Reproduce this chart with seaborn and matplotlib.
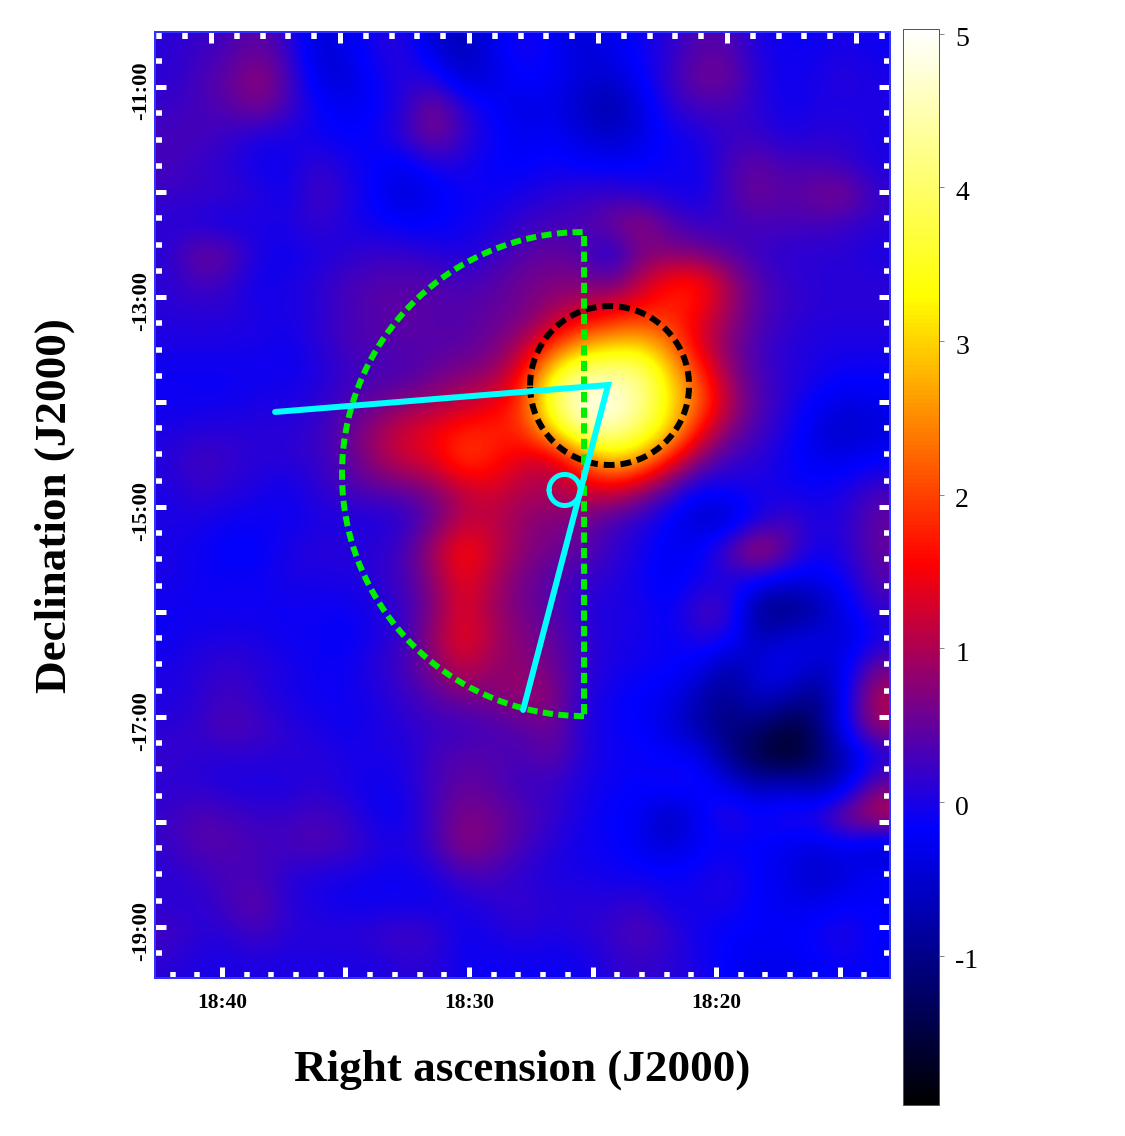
import matplotlib
matplotlib.use("Agg")
import matplotlib.pyplot as plt
from matplotlib.colors import LinearSegmentedColormap
from matplotlib.transforms import ScaledTranslation
import numpy as np
import pandas as pd
import seaborn as sns

# Significance map, rows north to south, columns east to west
sky_rows = [
    [.1,.2,.3,.5,.2,-.5,-.3,0,.1,-.5,-.7,-.3,0,-.2,-.5,-.3,-.1,.1,.4,.4,0,-.1,-.1,0,-.1],
    [.1,.3,.5,.85,.4,-.4,-.5,-.1,.1,0,-.6,-.4,-.1,-.2,-.4,-.5,-.2,.2,.6,.6,.1,-.1,0,.1,0],
    [.2,.3,.4,.7,.3,-.1,-.3,-.2,.1,.7,.1,-.2,-.4,-.3,-.6,-.8,-.4,.1,.3,.3,.1,-.1,0,0,0],
    [.3,.3,.2,0,0,-.1,-.2,-.1,.2,.7,.2,-.1,-.3,-.2,-.4,-.6,-.4,-.1,0,.2,.2,0,.1,.1,0],
    [.3,.2,.1,-.1,-.1,.2,0,-.2,-.3,0,0,-.2,-.2,-.1,-.2,-.2,-.2,-.1,-.1,.3,.5,.3,.3,.2,0],
    [.2,.2,.2,.1,-.1,.3,.1,-.2,-.5,-.3,-.1,-.1,0,.1,.2,.2,.1,0,-.1,.3,.6,.4,.6,.7,.2],
    [.1,0,-.1,0,0,.2,0,-.1,-.2,-.2,-.1,0,.2,.3,.3,.6,.9,.4,.2,.2,.3,.3,.3,.2,.1],
    [.1,.6,.5,0,-.1,0,.1,.2,.2,.1,0,.2,.4,.5,.4,-.1,.6,.7,.6,.4,.2,.1,.1,.1,0],
    [.1,.3,.2,-.1,0,.1,.3,.4,.4,.4,.3,.4,.6,.7,.7,.5,1.1,1.7,1.8,1.0,.4,.2,.1,.1,.1],
    [.1,.1,.1,0,0,.1,.3,.4,.5,.4,.4,.5,.6,.9,1.2,1.5,1.7,1.8,1.5,.9,.4,.2,.1,.1,.1],
    [0,0,0,0,-.1,.1,.3,.4,.4,.4,.4,.6,.9,1.7,2.5,2.8,2.9,2.3,1.3,.7,.3,.1,0,0,0],
    [-.1,-.1,-.1,-.1,-.1,0,.2,.3,.3,.5,.7,.8,1.5,3.2,4.2,4.3,4.2,3.0,1.9,.8,.3,.1,0,-.1,-.1],
    [-.1,-.1,-.1,0,0,.1,.3,.5,.7,.9,1.1,1.4,1.9,3.9,5.0,5.0,4.4,3.2,2.3,1.1,.4,.1,-.2,-.4,-.3],
    [0,.1,.1,.1,.1,.2,.5,.9,1.3,1.5,1.8,1.8,1.8,2.9,4.3,4.5,3.9,3.0,1.6,.7,.3,0,-.4,-.6,-.4],
    [.1,.3,.2,.1,.1,.2,.4,.9,1.2,1.4,2.0,1.7,1.3,1.1,2.0,2.9,2.6,1.6,.7,.2,.1,-.1,-.3,-.3,-.2],
    [0,.2,.1,0,-.1,.1,.3,.4,.5,.7,1.1,1.3,1.0,1.0,1.2,1.3,.9,.3,-.2,-.1,0,-.1,-.1,0,.3],
    [0,0,-.1,-.1,-.1,0,0,0,.1,.5,1.1,1.1,.8,.7,.6,.3,.1,-.2,-.6,-.6,-.1,.3,0,.1,.5],
    [0,-.1,-.2,-.2,0,.1,.1,.1,.3,1.0,1.7,1.2,.8,.6,.5,.2,0,-.3,-.2,.4,1.2,.5,-.1,.1,.5],
    [0,-.1,-.1,-.1,0,0,0,.1,.3,.8,1.5,1.0,.6,.4,.2,.1,-.1,-.3,-.1,0,-.1,-.3,-.3,-.1,.4],
    [-.1,-.1,-.1,-.1,-.1,-.1,-.1,0,.2,.7,1.4,.9,.6,.4,.1,0,0,-.2,.3,.3,-1.0,-1.2,-.8,-.3,.2],
    [-.1,0,0,0,-.1,-.1,-.2,0,.2,.9,1.5,1.0,.7,.5,.2,0,0,-.2,.1,0,-.7,-.4,-.3,-.5,-.1],
    [0,.1,.2,.1,0,-.1,-.1,.1,.3,.7,1.2,.8,.8,.6,.2,0,-.1,-.1,-.3,-.8,-.4,-.2,-.6,-.3,.6],
    [0,.1,.3,.1,0,-.1,-.1,0,.2,.4,.6,.7,.9,.8,.1,-.1,-.2,-.3,-.7,-1.0,-.5,-.7,-1.1,-.2,1.1],
    [.1,.2,.4,.3,.1,0,-.1,0,.1,.2,.2,.3,.4,.6,.1,-.1,-.2,-.4,-.8,-1.1,-1.1,-1.6,-1.2,-.1,.9],
    [.2,.1,.1,.1,.1,.1,0,0,0,.3,.4,.4,.3,.5,.1,-.1,-.1,-.2,-.2,-1.0,-1.5,-1.8,-1.3,-.7,-.1],
    [.1,.1,0,0,0,.1,0,-.1,0,.3,.5,.4,.2,.2,0,-.1,-.2,0,-.1,-.3,-.7,-.5,-.8,-.5,.6],
    [.2,.4,.3,.2,.2,.3,.2,-.1,-.1,.3,.7,.6,.4,.2,0,-.2,-.2,-.7,-.3,.2,-.1,.1,.1,.8,1.2],
    [.2,.4,.4,.3,.3,.4,.3,.1,0,.3,.8,.6,.3,.1,-.1,-.1,-.3,-.5,-.2,-.2,-.2,-.3,-.4,-.3,-.6],
    [.1,.2,.3,.3,.1,0,0,-.1,-.1,0,.3,.3,.1,0,0,-.1,-.1,-.1,-.1,.1,-.2,-.3,-.6,-.4,-.2],
    [.1,.1,.3,.5,.1,0,-.1,-.1,-.1,-.1,0,.1,.2,.1,.1,.1,.2,-.1,0,0,-.2,-.3,-.3,-.2,-.2],
    [.3,.1,.1,.3,.1,.1,.1,.2,.3,.2,-.1,0,.1,0,.1,.2,.4,.2,-.1,-.2,-.2,-.2,-.1,.1,-.2],
    [.1,0,0,0,0,0,0,0,.1,.1,-.1,-.1,-.1,-.1,-.1,.1,.2,.1,0,-.2,-.3,-.3,-.2,-.1,-.2],
]

# Colour scale
scale_min, scale_max = -1.97, 5.03
scale_stops = [-1.97, -0.18, 1.56, 3.30, 5.03]
scale_colors = ["#000000", "#0000ff", "#ff0000", "#ffff00", "#ffffff"]
colorbar_ticks = [-1, 0, 1, 2, 3, 4, 5]
colorbar_labels = ["-1", "0", "1", "2", "3", "4", "5"]

# Map window and graticule, RA in minutes past 18h, Dec in degrees
ra_east, ra_west = 42.71, 12.96
dec_north, dec_south = -10.476, -19.486
ra_labelled = [40, 30, 20]
ra_major = [40, 35, 30, 25, 20, 15]
ra_minor = [42, 41, 39, 38, 37, 36, 34, 33, 32, 31, 29, 28, 27, 26, 24, 23, 22, 21, 19, 18, 17, 16, 14]
meridian_convergence = 1.0445
dec_labelled = [-11, -13, -15, -17, -19]
dec_major = [-11, -12, -13, -14, -15, -16, -17, -18, -19]
dec_minor = [d + q for d in range(-20, -11) for q in (0.25, 0.5, 0.75)][2:] + [-10.75]
deg_in_ra_minutes = 4.251

# Overlaid regions
hotspot_center = (24.31, -13.843)
hotspot_radius = 0.757
wedge_center = (25.344, -14.686)
wedge_radius = 2.305
sightline_ra = [37.85, 24.37, 27.81]
sightline_dec = [-14.095, -13.838, -16.933]
marker_center = (26.13, -14.838)
marker_radius = 0.148

W, H = 1125, 1136
DPI = 100
PX = 72 / DPI

sns.set_theme(style="white")
plt.rcParams["font.family"] = ["Liberation Serif", "DejaVu Serif"]
plt.rcParams["axes.unicode_minus"] = False

cmap = LinearSegmentedColormap.from_list(
    "significance",
    [((s - scale_min) / (scale_max - scale_min), c) for s, c in zip(scale_stops, scale_colors)],
)

sky = pd.DataFrame(sky_rows)
n_rows, n_cols = sky.shape


def col_of(ra):
    return (ra_east - np.asarray(ra, float)) / (ra_east - ra_west) * n_cols


def row_of(dec):
    return (dec_north - np.asarray(dec, float)) / (dec_north - dec_south) * n_rows


def north_col_of(ra):
    return col_of(30 + (np.asarray(ra, float) - 30) * meridian_convergence)


fig = plt.figure(figsize=(W / DPI, H / DPI), dpi=DPI, facecolor="white")
ax = fig.add_axes([155 / W, 1 - 978 / H, 735 / W, 946 / H])
cax = fig.add_axes([903 / W, 1 - 1105 / H, 36 / W, 1076 / H])

sns.heatmap(sky, ax=ax, cbar_ax=cax, cmap=cmap, vmin=scale_min, vmax=scale_max,
            xticklabels=False, yticklabels=False)
ax.imshow(sky.values, cmap=cmap, vmin=scale_min, vmax=scale_max, aspect="auto",
          interpolation="bicubic", extent=(0, n_cols, n_rows, 0), zorder=2)
ax.set_xlabel("")
ax.set_ylabel("")
ax.set_axisbelow(False)

frame = "#3030ff"
for spine in ax.spines.values():
    spine.set_visible(True)
    spine.set_color(frame)
    spine.set_linewidth(2 * PX)
    spine.set_zorder(6)

# White graticule ticks pointing into the map
tick_major = dict(which="major", direction="in", color="white", length=11 * PX, width=5 * PX)
tick_minor = dict(which="minor", direction="in", color="white", length=6.5 * PX, width=5.5 * PX)

ax.set_xticks(col_of(ra_major))
ax.set_xticks(col_of(ra_minor), minor=True)
ax.set_xticklabels([f"18:{r}" if r in ra_labelled else "" for r in ra_major],
                   fontsize=15.4, fontweight="bold", color="black")
ax.set_yticks(row_of(dec_major))
ax.set_yticks(row_of(dec_minor), minor=True)
ax.set_yticklabels([f"{d}:00" if d in dec_labelled else "" for d in dec_major],
                   fontsize=16.2, fontweight="bold", color="black", rotation=90, va="center")
for kw in (tick_major, tick_minor):
    ax.tick_params(axis="both", left=True, right=True, bottom=True, top=False, **kw)
ax.tick_params(axis="x", which="major", pad=11)
ax.tick_params(axis="y", which="major", pad=3)
ax.set_xlim(0, n_cols)
ax.set_ylim(n_rows, 0)
down_5px = ScaledTranslation(0, -4 / DPI, fig.dpi_scale_trans)
for lab in ax.get_yticklabels():
    lab.set_transform(lab.get_transform() + down_5px)

north = ax.secondary_xaxis("top")
north.set_xticks(north_col_of(ra_major), labels=[""] * len(ra_major))
north.set_xticks(north_col_of(ra_minor), minor=True)
north.spines["top"].set_color(frame)
north.spines["top"].set_linewidth(2 * PX)
for kw in (tick_major, tick_minor):
    north.tick_params(axis="x", **kw)
north.set_zorder(7)

# Regions
theta = np.linspace(0, 2 * np.pi, 361)


def ring(center, radius, angles):
    ra = center[0] + radius * deg_in_ra_minutes * np.cos(angles)
    dec = center[1] + radius * np.sin(angles)
    return col_of(ra), row_of(dec)


hx, hy = ring(hotspot_center, hotspot_radius, theta)
ax.plot(hx, hy, color="black", lw=6 * PX, ls=(0, (1.8, 1.0)), zorder=3)

half = np.linspace(-np.pi / 2, np.pi / 2, 181)
wx, wy = ring(wedge_center, wedge_radius, half)
wx = np.r_[wx, wx[0]]
wy = np.r_[wy, wy[0]]
ax.plot(wx, wy, color="#00ee00", lw=6 * PX, ls=(0, (1.7, 0.9)), zorder=4)

ax.plot(col_of(sightline_ra), row_of(sightline_dec), color="#00ffff", lw=6 * PX, zorder=5,
        solid_joinstyle="miter")
mx, my = ring(marker_center, marker_radius, theta)
ax.plot(mx, my, color="#00ffff", lw=5 * PX, zorder=5)

# Axis titles
fig.text(522 / W, 1 - 1070 / H, "Right ascension (J2000)", ha="center", va="center",
         fontsize=32.5, fontweight="bold", color="black")
fig.text(55 / W, 1 - 506 / H, "Declination (J2000)", ha="center", va="center", rotation=90,
         fontsize=32.5, fontweight="bold", color="black")

# Colour bar
cbar = ax.collections[0].colorbar
cbar.set_ticks(colorbar_ticks, labels=colorbar_labels)
cbar.outline.set_visible(True)
cbar.outline.set_edgecolor("#555555")
cbar.outline.set_linewidth(1 * PX)
cax.tick_params(axis="y", which="major", right=True, length=5 * PX, width=1 * PX, color="#888888",
                labelsize=20, labelcolor="black", pad=8)
down_3px = ScaledTranslation(0, -3 / DPI, fig.dpi_scale_trans)
for lab in cax.get_yticklabels():
    lab.set_transform(lab.get_transform() + down_3px)

fig.savefig("out.png", dpi=DPI, facecolor="white")
